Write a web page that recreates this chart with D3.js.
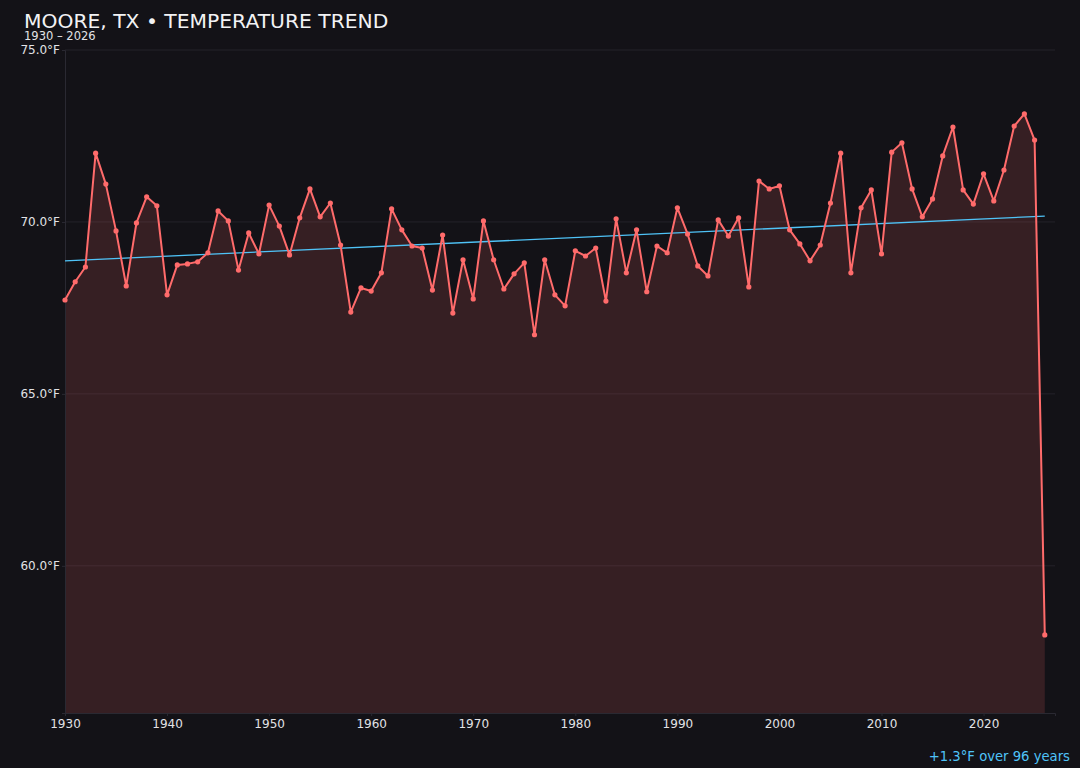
<!DOCTYPE html>
<html>
<head>
<meta charset="utf-8">
<script src="https://cdn.jsdelivr.net/npm/d3@7"></script>
<style>
  html, body { margin: 0; padding: 0; background: #131217; }
  svg { display: block; font-family: "DejaVu Sans", sans-serif; }
</style>
</head>
<body>
<div id="chart"></div>
<script>
// yearly mean temperature
var years = d3.range(1930, 2027);
var temps = [
  67.73, 68.26, 68.69, 72.00, 71.10, 69.74, 68.14, 69.97, 70.73, 70.47,
  67.88, 68.75, 68.78, 68.84, 69.10, 70.32, 70.03, 68.60, 69.68, 69.07,
  70.49, 69.88, 69.04, 70.12, 70.96, 70.15, 70.55, 69.33, 67.38, 68.08,
  67.99, 68.52, 70.38, 69.77, 69.30, 69.24, 68.02, 69.62, 67.35, 68.90,
  67.76, 70.03, 68.90, 68.05, 68.49, 68.81, 66.72, 68.90, 67.88, 67.56,
  69.16, 69.01, 69.24, 67.70, 70.09, 68.52, 69.77, 67.97, 69.30, 69.10,
  70.41, 69.65, 68.72, 68.43, 70.06, 69.59, 70.12, 68.11, 71.19, 70.96,
  71.05, 69.77, 69.36, 68.87, 69.33, 70.55, 72.00, 68.52, 70.41, 70.93,
  69.07, 72.03, 72.30, 70.96, 70.15, 70.67, 71.92, 72.76, 70.93, 70.52,
  71.40, 70.61, 71.51, 72.79, 73.14, 72.38, 57.99
];
// trend line ends (first and last year)
var trendYears = [1930, 2026];
var trendTemps = [68.87, 70.17];
var yTicks = [60, 65, 70, 75];
var xTicks = [1930, 1940, 1950, 1960, 1970, 1980, 1990, 2000, 2010, 2020];

var width = 1080, height = 768;
var margin = {top: 50, right: 25, bottom: 55, left: 65};

var data = years.map(function(y, i) { return {year: y, temp: temps[i]}; });
var trend = trendYears.map(function(y, i) { return {year: y, temp: trendTemps[i]}; });

var svg = d3.select("#chart").append("svg")
  .attr("width", width)
  .attr("height", height);

svg.append("rect").attr("width", width).attr("height", height).attr("fill", "#131217");

var x = d3.scaleLinear()
  .domain([1930, 2027])
  .range([margin.left, width - margin.right]);

var y = d3.scaleLinear()
  .domain([55.72, 75])
  .range([height - margin.bottom, margin.top]);

// grid
svg.append("g")
  .selectAll("line")
  .data(yTicks)
  .enter().append("line")
    .attr("x1", x.range()[0])
    .attr("x2", x.range()[1])
    .attr("y1", function(d) { return y(d); })
    .attr("y2", function(d) { return y(d); })
    .attr("stroke", "#24222a")
    .attr("stroke-width", 1);

// area under the line
var area = d3.area()
  .x(function(d) { return x(d.year); })
  .y0(y.range()[0])
  .y1(function(d) { return y(d.temp); });

svg.append("path")
  .datum(data)
  .attr("d", area)
  .attr("fill", "#ff6b6b")
  .attr("fill-opacity", 0.15);

// axes
var yAxis = svg.append("g")
  .attr("transform", "translate(" + margin.left + ",0)")
  .call(d3.axisLeft(y).tickValues(yTicks).tickSize(3).tickFormat(function(d) { return d3.format(".1f")(d) + "°F"; }));

var xAxis = svg.append("g")
  .attr("transform", "translate(0," + (height - margin.bottom) + ")")
  .call(d3.axisBottom(x).tickValues(xTicks).tickSize(3).tickFormat(d3.format("d")));

[yAxis, xAxis].forEach(function(g) {
  g.select(".domain").attr("stroke", "#2a2932");
  g.selectAll(".tick line").attr("stroke", "#2a2932");
  g.selectAll(".tick text")
    .attr("fill", "#e2e2e6")
    .style("font-size", "12px")
    .style("font-family", "'DejaVu Sans', sans-serif");
});
yAxis.selectAll(".tick text").attr("x", -5);
xAxis.selectAll(".tick text").attr("y", 6);

// trend line
var line = d3.line()
  .x(function(d) { return x(d.year); })
  .y(function(d) { return y(d.temp); });

svg.append("path")
  .datum(trend)
  .attr("d", line)
  .attr("fill", "none")
  .attr("stroke", "#4fc3f7")
  .attr("stroke-width", 1.3);

// temperature line
svg.append("path")
  .datum(data)
  .attr("d", line)
  .attr("fill", "none")
  .attr("stroke", "#ff6b6b")
  .attr("stroke-width", 2)
  .attr("stroke-linejoin", "round");

svg.append("g")
  .selectAll("circle")
  .data(data)
  .enter().append("circle")
    .attr("cx", function(d) { return x(d.year); })
    .attr("cy", function(d) { return y(d.temp); })
    .attr("r", 2.6)
    .attr("fill", "#ff6b6b");

// titles
svg.append("text")
  .attr("x", 24).attr("y", 28)
  .attr("fill", "#f2f2f4")
  .style("font-size", "20.3px")
  .text("MOORE, TX • TEMPERATURE TREND");

svg.append("text")
  .attr("x", 24).attr("y", 39.5)
  .attr("fill", "#e2e2e6")
  .style("font-size", "11.5px")
  .text("1930 – 2026");

svg.append("text")
  .attr("x", 1070).attr("y", 761)
  .attr("text-anchor", "end")
  .attr("fill", "#4fc3f7")
  .style("font-size", "13.2px")
  .text("+1.3°F over 96 years");
</script>
</body>
</html>
